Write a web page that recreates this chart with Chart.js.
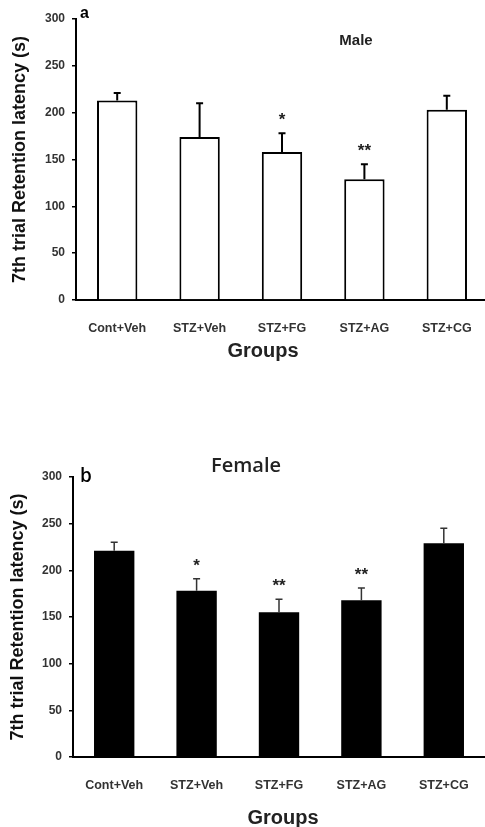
<!DOCTYPE html>
<html>
<head>
<meta charset="utf-8">
<script src="https://cdn.jsdelivr.net/npm/chart.js@4.4.1/dist/chart.umd.min.js"></script>
<style>
body { margin: 0; background: #fff; overflow: hidden; width: 485px; height: 827px; }
.panel { position: absolute; left: 0; }
</style>
</head>
<body>
<div class="panel" style="top:0"><canvas id="chart-male" width="488" height="370"></canvas></div>
<div class="panel" style="top:440px"><canvas id="chart-female" width="485" height="387"></canvas></div>
<script>
const groups = ['Cont+Veh', 'STZ+Veh', 'STZ+FG', 'STZ+AG', 'STZ+CG'];
const yTicks = [0, 50, 100, 150, 200, 250, 300];

// a - male
const maleMean = [213, 174, 158, 129, 203];
const maleErr = [8, 36, 20, 16, 15];
const maleSig = ['', '', '*', '**', ''];

// b - female
const femaleMean = [221, 178, 155, 168, 229];
const femaleErr = [9, 13, 14, 13, 16];
const femaleSig = ['', '*', '**', '**', ''];

const arial = 'Liberation Sans, Arial, sans-serif';

// error bars, stars and the loose labels
function extras(o) {
    return {
        id: 'extras',
        afterDatasetsDraw(chart) {
            const ctx = chart.ctx;
            const y = chart.scales.y;
            const bars = chart.getDatasetMeta(0).data;
            ctx.save();
            ctx.strokeStyle = o.errColor;
            ctx.lineWidth = o.errWidth;
            ctx.fillStyle = '#222';
            ctx.font = 'bold 17px ' + arial;
            ctx.textAlign = 'center';
            ctx.textBaseline = 'alphabetic';
            bars.forEach((bar, i) => {
                const base = y.getPixelForValue(o.means[i]);
                const top = y.getPixelForValue(o.means[i] + o.errs[i]);
                ctx.beginPath();
                ctx.moveTo(bar.x, base);
                ctx.lineTo(bar.x, top);
                ctx.moveTo(bar.x - 3.5, top);
                ctx.lineTo(bar.x + 3.5, top);
                ctx.stroke();
                if (o.sig[i]) ctx.fillText(o.sig[i], bar.x, top - 8);
            });

            ctx.fillStyle = '#000';
            ctx.textAlign = 'left';
            ctx.font = o.letterFont;
            ctx.fillText(o.letter, o.letterX, o.letterY);

            ctx.textAlign = 'center';
            ctx.font = o.nameFont;
            ctx.fillStyle = '#222';
            ctx.fillText(o.name, o.nameX, o.nameY);

            ctx.font = 'bold 20px ' + arial;
            ctx.fillStyle = '#222';
            ctx.fillText('Groups', o.groupsX, o.groupsY);
            ctx.restore();
        }
    };
}

function panel(id, o) {
    return new Chart(document.getElementById(id), {
        type: 'bar',
        data: {
            labels: groups,
            datasets: [{
                data: o.means,
                backgroundColor: o.fill,
                borderColor: '#000',
                borderWidth: o.border,
                barPercentage: 0.49,
                categoryPercentage: 1
            }]
        },
        options: {
            responsive: false,
            animation: false,
            layout: { padding: { top: o.top, left: 0, right: 0, bottom: 0 } },
            plugins: { legend: { display: false }, tooltip: { enabled: false } },
            scales: {
                x: {
                    grid: { display: false },
                    border: { color: '#000', width: 2 },
                    ticks: {
                        color: '#333', padding: 13, maxRotation: 0, autoSkip: false,
                        font: { family: arial, size: 12.5, weight: 'bold' }
                    },
                    afterFit(s) { s.height = 70; }
                },
                y: {
                    min: 0,
                    max: 300,
                    afterBuildTicks(s) { s.ticks = yTicks.map(v => ({ value: v })); },
                    grid: { drawOnChartArea: false, color: '#000', lineWidth: 1.5, tickLength: 4 },
                    border: { color: '#000', width: 2 },
                    ticks: {
                        color: '#333', padding: 7,
                        font: { family: arial, size: 12, weight: 'bold' }
                    },
                    title: {
                        display: true,
                        text: '7th trial Retention latency (s)',
                        color: '#111',
                        font: { family: arial, size: 18, weight: 'bold' },
                        padding: { top: o.titlePad, bottom: 0 }
                    },
                    afterFit(s) { s.width = o.left; }
                }
            }
        },
        plugins: [extras(o)]
    });
}

panel('chart-male', {
    means: maleMean, errs: maleErr, sig: maleSig,
    fill: '#fff', border: 2, errColor: '#000', errWidth: 2,
    top: 19, left: 76, titlePad: 9,
    letter: 'a', letterFont: 'bold 16px ' + arial, letterX: 80, letterY: 18,
    name: 'Male', nameFont: 'bold 15px ' + arial, nameX: 356, nameY: 45,
    groupsX: 263, groupsY: 357
});

panel('chart-female', {
    means: femaleMean, errs: femaleErr, sig: femaleSig,
    fill: '#000', border: 0, errColor: '#333', errWidth: 1.5,
    top: 37, left: 73, titlePad: 7.5,
    letter: 'b', letterFont: '600 19px "Open Sans", sans-serif', letterX: 80, letterY: 42,
    name: 'Female', nameFont: '600 20px "Open Sans", sans-serif', nameX: 246, nameY: 32,
    groupsX: 283, groupsY: 384
});
</script>
</body>
</html>
